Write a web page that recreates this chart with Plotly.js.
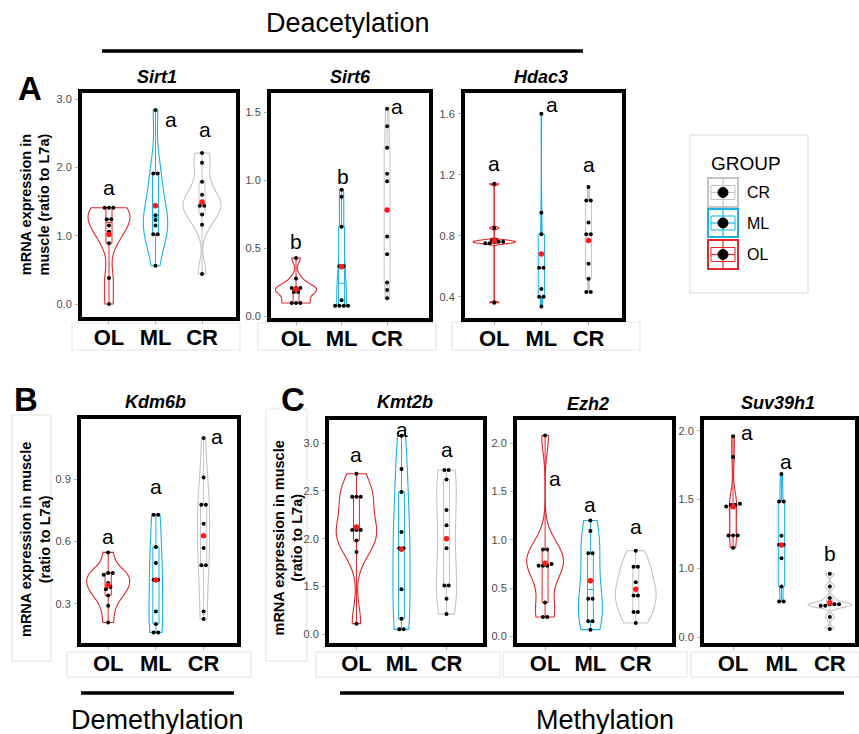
<!DOCTYPE html>
<html><head><meta charset="utf-8">
<script src="https://cdn.plot.ly/plotly-3.0.1.min.js"></script>
<style>html,body{margin:0;padding:0;background:#fff}#chart{width:859px;height:734px}</style>
</head><body><div id="chart"></div>
<script>
const groups = ['OL', 'ML', 'CR'];
const groupColors = ['#E3262A', '#19B2EA', '#C4C4C4'];

// ---- data (mRNA expression, ratio to L7a) ----
const sirt1_OL = [1.41, 1.41, 1.41, 1.24, 1.24, 1.15, 1.06, 0.89, 0.38, 0.00];
const sirt1_ML = [2.84, 1.91, 1.91, 1.45, 1.30, 1.23, 1.15, 1.02, 1.02, 0.56];
const sirt1_CR = [2.21, 2.07, 1.79, 1.60, 1.49, 1.44, 1.44, 1.31, 1.16, 0.44];
const sirt1_letters = ['a', 'a', 'a'];

const sirt6_OL = [0.43, 0.28, 0.21, 0.21, 0.21, 0.18, 0.18, 0.10, 0.10, 0.10];
const sirt6_ML = [0.93, 0.88, 0.66, 0.37, 0.37, 0.12, 0.08, 0.08, 0.08, 0.08];
const sirt6_CR = [1.525, 1.397, 1.238, 1.047, 0.993, 0.588, 0.458, 0.25, 0.196, 0.135];
const sirt6_letters = ['b', 'b', 'a'];

const hdac3_OL = [1.14, 0.85, 0.77, 0.77, 0.76, 0.76, 0.76, 0.75, 0.75, 0.36];
const hdac3_ML = [1.60, 0.95, 0.81, 0.68, 0.59, 0.59, 0.45, 0.40, 0.40, 0.335];
const hdac3_CR = [1.12, 1.03, 1.03, 0.886, 0.81, 0.81, 0.616, 0.517, 0.43, 0.43];
const hdac3_letters = ['a', 'a', 'a'];

const kdm6b_OL = [0.547, 0.448, 0.448, 0.44, 0.40, 0.38, 0.37, 0.34, 0.29, 0.21];
const kdm6b_ML = [0.728, 0.728, 0.573, 0.496, 0.415, 0.415, 0.263, 0.202, 0.162, 0.162];
const kdm6b_CR = [1.097, 0.908, 0.776, 0.776, 0.685, 0.568, 0.485, 0.485, 0.263, 0.226];
const kdm6b_letters = ['a', 'a', 'a'];

const kmt2b_OL = [2.68, 2.44, 2.44, 2.44, 2.09, 2.09, 2.09, 1.98, 1.86, 1.11];
const kmt2b_ML = [3.08, 2.73, 2.49, 2.07, 1.90, 1.90, 1.47, 1.16, 1.05, 1.05];
const kmt2b_CR = [2.72, 2.72, 2.62, 2.30, 2.14, 1.90, 1.51, 1.51, 1.37, 1.21];
const kmt2b_letters = ['a', 'a', 'a'];

const ezh2_OL = [2.08, 0.90, 0.90, 0.75, 0.73, 0.73, 0.73, 0.35, 0.20, 0.20];
const ezh2_ML = [1.20, 1.09, 0.86, 0.86, 0.58, 0.39, 0.39, 0.155, 0.155, 0.069];
const ezh2_CR = [0.886, 0.72, 0.72, 0.56, 0.49, 0.424, 0.424, 0.252, 0.252, 0.138];
const ezh2_letters = ['a', 'a', 'a'];

const suv39h1_OL = [1.96, 1.81, 1.47, 1.46, 1.46, 1.45, 1.24, 1.24, 1.24, 1.15];
const suv39h1_ML = [1.686, 1.486, 1.486, 1.237, 1.172, 1.172, 1.075, 0.87, 0.761, 0.761];
const suv39h1_CR = [0.962, 0.87, 0.785, 0.74, 0.74, 0.74, 0.73, 0.73, 0.648, 0.561];
const suv39h1_letters = ['a', 'a', 'b'];

// ---- panel layout (pixel boxes, axis ranges, tick labels as printed) ----
const W = 859, H = 734;
const px = v => v / W, py = v => 1 - v / H;
// lp: [x offset from group centre, y of letter]
const panels = [
  {title: 'Sirt1', data: [sirt1_OL, sirt1_ML, sirt1_CR], letters: sirt1_letters,
   box: [82, 236, 93, 317], xr: [-0.58, 2.73], yr: [-0.19, 3.09],
   tv: [0, 1, 2, 3], tt: ['0.0', '1.0', '2.0', '3.0'],
   lp: [[0, 1.70], [0.34, 2.70], [0.06, 2.56]], tpos: [157, 77]},
  {title: 'Sirt6', data: [sirt6_OL, sirt6_ML, sirt6_CR], letters: sirt6_letters,
   box: [271, 429, 93, 318], xr: [-0.55, 2.92], yr: [-0.01, 1.64],
   tv: [0, 0.5, 1, 1.5], tt: ['0.0', '0.5', '1.0', '1.5'],
   lp: [[0, 0.55], [0.04, 1.025], [0.22, 1.544]], tpos: [350, 77]},
  {title: 'Hdac3', data: [hdac3_OL, hdac3_ML, hdac3_CR], letters: hdac3_letters,
   box: [465, 622, 93, 318], xr: [-0.62, 2.71], yr: [0.26, 1.736],
   tv: [0.4, 0.8, 1.2, 1.6], tt: ['0.4', '0.8', '1.2', '1.6'],
   lp: [[0, 1.276], [0.23, 1.66], [0, 1.27]], tpos: [541, 77]},
  {title: 'Kdm6b', data: [kdm6b_OL, kdm6b_ML, kdm6b_CR], letters: kdm6b_letters,
   box: [81, 237, 419, 643], xr: [-0.57, 2.70], yr: [0.111, 1.189],
   tv: [0.3, 0.6, 0.9], tt: ['0.3', '0.6', '0.9'],
   lp: [[0, 0.624], [0, 0.862], [0.28, 1.105]], tpos: [155, 402]},
  {title: 'Kmt2b', data: [kmt2b_OL, kmt2b_ML, kmt2b_CR], letters: kmt2b_letters,
   box: [329, 483, 420, 643], xr: [-0.61, 2.81], yr: [0.907, 3.244],
   tv: [1.0, 1.5, 2.0, 2.5, 3.0], tt: ['0.0', '1.5', '2.0', '2.5', '3.0'],
   lp: [[0, 2.88], [0.02, 3.14], [0, 2.93]], tpos: [405, 402]},
  {title: 'Ezh2', data: [ezh2_OL, ezh2_ML, ezh2_CR], letters: ezh2_letters,
   box: [517, 672, 420, 643], xr: [-0.62, 2.80], yr: [-0.069, 2.24],
   tv: [0, 0.5, 1, 1.5, 2], tt: ['0.0', '0.5', '1.0', '1.5', '2.0'],
   lp: [[0.22, 1.63], [0, 1.36], [0, 1.14]], tpos: [588, 404]},
  {title: 'Suv39h1', data: [suv39h1_OL, suv39h1_ML, suv39h1_CR], letters: suv39h1_letters,
   box: [704, 855, 420, 643], xr: [-0.6, 2.52], yr: [0.459, 2.078],
   tv: [0.5, 1.0, 1.5, 2.0], tt: ['0.0', '1.0', '1.5', '2.0'],
   lp: [[0.29, 1.99], [0.1, 1.78], [0, 1.11]], tpos: [778, 403]}
];

const FONT = 'Liberation Sans, Arial, Helvetica, sans-serif';
const traces = [];
const annotations = [];
const shapes = [];
const layout = {
  width: W, height: H, margin: {l: 0, r: 0, t: 0, b: 0},
  paper_bgcolor: '#fff', plot_bgcolor: 'rgba(0,0,0,0)',
  showlegend: false, violinmode: 'overlay', boxmode: 'overlay',
  font: {family: FONT, color: '#000'}
};

// --- kernel density helpers (R bw.nrd0, gaussian kernel, trimmed to data range) ---
function q7(sorted, p) {
  const h = (sorted.length - 1) * p, lo = Math.floor(h);
  const hi = Math.min(lo + 1, sorted.length - 1);
  return sorted[lo] + (h - lo) * (sorted[hi] - sorted[lo]);
}
function nrd0(vals) {
  const n = vals.length, s = vals.slice().sort((a, b) => a - b);
  const m = vals.reduce((a, b) => a + b, 0) / n;
  const sd = Math.sqrt(vals.reduce((a, b) => a + (b - m) * (b - m), 0) / (n - 1));
  const iqr = q7(s, 0.75) - q7(s, 0.25);
  let lo = Math.min(sd, iqr / 1.34);
  if (!(lo > 0)) lo = sd || Math.abs(s[0]) || 1;
  return 0.9 * lo * Math.pow(n, -0.2);
}
function maxDensity(vals, bw) {
  const mn = Math.min(...vals), mx = Math.max(...vals), n = vals.length;
  let best = 0;
  for (let k = 0; k < 512; k++) {
    const t = mn + (mx - mn) * k / 511;
    let d = 0;
    vals.forEach(x => { const z = (t - x) / bw; d += Math.exp(-0.5 * z * z); });
    d /= n * bw * Math.sqrt(2 * Math.PI);
    if (d > best) best = d;
  }
  return best;
}

function stackOffsets(vals, span) {
  const tol = 0.013 * span;
  const order = vals.map((v, i) => i).sort((a, b) => vals[a] - vals[b]);
  const off = new Array(vals.length).fill(0);
  let i = 0;
  while (i < order.length) {
    let j = i;
    while (j + 1 < order.length && vals[order[j + 1]] - vals[order[i]] <= tol) j++;
    const k = j - i + 1;
    for (let m = 0; m < k; m++) off[order[i + m]] = (m - (k - 1) / 2) * 0.095;
    i = j + 1;
  }
  return off;
}

panels.forEach((p, i) => {
  const n = i === 0 ? '' : String(i + 1);
  const xa = 'x' + n, ya = 'y' + n;
  const [l, r, t, b] = p.box;
  layout['xaxis' + n] = {
    domain: [px(l), px(r)], range: p.xr, anchor: ya, type: 'linear',
    tickvals: [0, 1, 2], ticktext: groups,
    tickfont: {size: 22, weight: 'bold', color: '#000', family: FONT},
    showline: true, mirror: true, linewidth: 4, linecolor: '#000',
    ticks: 'outside', ticklen: 3, tickcolor: '#b0b0b0', tickwidth: 1,
    showgrid: false, zeroline: false, fixedrange: true, ticklabelstandoff: -5
  };
  layout['yaxis' + n] = {
    domain: [py(b), py(t)], range: p.yr, anchor: xa, type: 'linear',
    tickvals: p.tv, ticktext: p.tt,
    tickfont: {size: 11, color: '#4d4d4d', family: FONT},
    showline: true, mirror: true, linewidth: 4, linecolor: '#000',
    ticks: 'outside', ticklen: 3, tickcolor: '#b0b0b0', tickwidth: 1,
    showgrid: false, zeroline: false, fixedrange: true, ticklabelstandoff: 1
  };
  const span = p.yr[1] - p.yr[0];
  // area-scaled violins (as ggplot scale = "area")
  const bws = p.data.map(v => nrd0(v));
  const maxd = p.data.map((v, g) => maxDensity(v, bws[g]));
  const panelMax = Math.max(...maxd);
  p.data.forEach((vals, g) => {
    traces.push({
      type: 'violin', x0: g, y: vals, xaxis: xa, yaxis: ya,
      width: 0.9 * maxd[g] / panelMax, bandwidth: bws[g],
      scalegroup: 'v' + i + '_' + g, scalemode: 'width', spanmode: 'hard',
      line: {color: groupColors[g], width: 1.1}, fillcolor: 'rgba(255,255,255,0)',
      points: false, box: {visible: false}, meanline: {visible: false},
      hoverinfo: 'skip', showlegend: false, name: groups[g]
    });
  });
  p.data.forEach((vals, g) => {
    traces.push({
      type: 'box', x0: g, y: vals, xaxis: xa, yaxis: ya, width: 0.13,
      fillcolor: '#fff', line: {color: groupColors[g], width: 1},
      whiskerwidth: 0, boxpoints: false, hoverinfo: 'skip', showlegend: false, name: groups[g]
    });
  });
  p.data.forEach((vals, g) => {
    const off = stackOffsets(vals, span);
    traces.push({
      type: 'scatter', mode: 'markers', xaxis: xa, yaxis: ya,
      x: vals.map((v, k) => g + off[k]), y: vals,
      marker: {color: '#000', size: 4}, hoverinfo: 'skip', showlegend: false
    });
  });
  traces.push({
    type: 'scatter', mode: 'markers', xaxis: xa, yaxis: ya,
    x: [0, 1, 2], y: p.data.map(v => v.reduce((s, a) => s + a, 0) / v.length),
    marker: {color: '#FF1A1A', size: 5.5}, hoverinfo: 'skip', showlegend: false
  });
  p.letters.forEach((txt, g) => {
    annotations.push({xref: xa, yref: ya, x: g + p.lp[g][0], y: p.lp[g][1], text: txt,
      xanchor: 'center', yanchor: 'middle',
      showarrow: false, font: {size: 21, color: '#000', family: FONT}});
  });
  annotations.push({xref: 'paper', yref: 'paper', x: px(p.tpos[0]), y: py(p.tpos[1]),
    xanchor: 'center', yanchor: 'middle',
    text: '<b><i>' + p.title + '</i></b>', showarrow: false,
    font: {size: 18, color: '#000', family: FONT}});
});

function paperText(x, y, text, size, extra) {
  annotations.push(Object.assign({xref: 'paper', yref: 'paper', x: px(x), y: py(y), text: text,
    xanchor: 'center', yanchor: 'middle',
    showarrow: false, font: {size: size, color: '#000', family: FONT}}, extra || {}));
}
function paperLine(x0, y0, x1, y1, w, c) {
  shapes.push({type: 'line', xref: 'paper', yref: 'paper', x0: px(x0), y0: py(y0), x1: px(x1), y1: py(y1),
    line: {color: c || '#000', width: w}});
}
function paperRect(x0, y0, x1, y1, c, w, fill) {
  shapes.push({type: 'rect', xref: 'paper', yref: 'paper', x0: px(x0), y0: py(y0), x1: px(x1), y1: py(y1),
    line: {color: c, width: w}, fillcolor: fill || 'rgba(0,0,0,0)', layer: 'below'});
}

// section headings
paperText(348, 23, 'Deacetylation', 27);
paperLine(102, 51, 583, 51, 3.5);
paperText(157.5, 720, 'Demethylation', 27);
paperLine(81, 693, 234, 693, 3.5);
paperText(605, 720, 'Methylation', 27);
paperLine(340, 693, 844, 693, 3.5);

// panel letters
paperText(30, 89, '<b>A</b>', 33);
paperText(26, 399, '<b>B</b>', 33);
paperText(293, 399, '<b>C</b>', 33);

// y-axis titles
paperText(35.5, 205, '<b>mRNA expression in<br>muscle (ratio to L7a)</b>', 14.5, {textangle: -90});
paperText(35, 540, '<b>mRNA expression in muscle<br>(ratio to L7a)</b>', 14.5, {textangle: -90});
paperText(287.5, 538, '<b>mRNA expression in muscle<br>(ratio to L7a)</b>', 14.5, {textangle: -90});

// faint panel-assembly boxes
const faint = '#e3e3e3';
paperRect(72, 323, 240, 350, faint, 1);
paperRect(258, 323, 436, 350, faint, 1);
paperRect(452, 322, 640, 350, faint, 1);
paperRect(67, 652, 251, 677, faint, 1);
paperRect(316, 652, 500, 677, faint, 1);
paperRect(503, 652, 687, 677, faint, 1);
paperRect(691, 652, 859, 677, faint, 1);
paperRect(12, 415, 51, 661, faint, 1);
paperRect(266, 409, 307, 661, faint, 1);

// legend (GROUP)
paperRect(690, 135, 808, 293, '#dcdcdc', 1);
paperText(746, 163, 'GROUP', 19);
const legendOrder = [2, 1, 0];
const keyY = [[178, 207], [209, 237], [240, 269]];
legendOrder.forEach((g, k) => {
  const [y0, y1] = keyY[k];
  const yc = (y0 + y1) / 2, xc = 723;
  const col = groupColors[g];
  shapes.push({type: 'rect', xref: 'paper', yref: 'paper', x0: px(708), x1: px(738), y0: py(y1), y1: py(y0),
    line: {color: col, width: 2}, fillcolor: '#fff'});
  shapes.push({type: 'rect', xref: 'paper', yref: 'paper', x0: px(711), x1: px(735), y0: py(yc + 7), y1: py(yc - 7),
    line: {color: col, width: 1}, fillcolor: 'rgba(0,0,0,0)'});
  paperLine(xc, y0, xc, y1, 1.2, col);
  paperLine(711, yc, 735, yc, 1.2, col);
  shapes.push({type: 'circle', xref: 'paper', yref: 'paper', x0: px(xc - 5), x1: px(xc + 5), y0: py(yc + 5), y1: py(yc - 5),
    line: {color: '#000', width: 1}, fillcolor: '#000'});
  paperText(745, yc, groups[g], 16, {xanchor: 'left'});
});

layout.annotations = annotations;
layout.shapes = shapes;
Plotly.newPlot('chart', traces, layout, {staticPlot: true, displayModeBar: false});
</script>
</body></html>
